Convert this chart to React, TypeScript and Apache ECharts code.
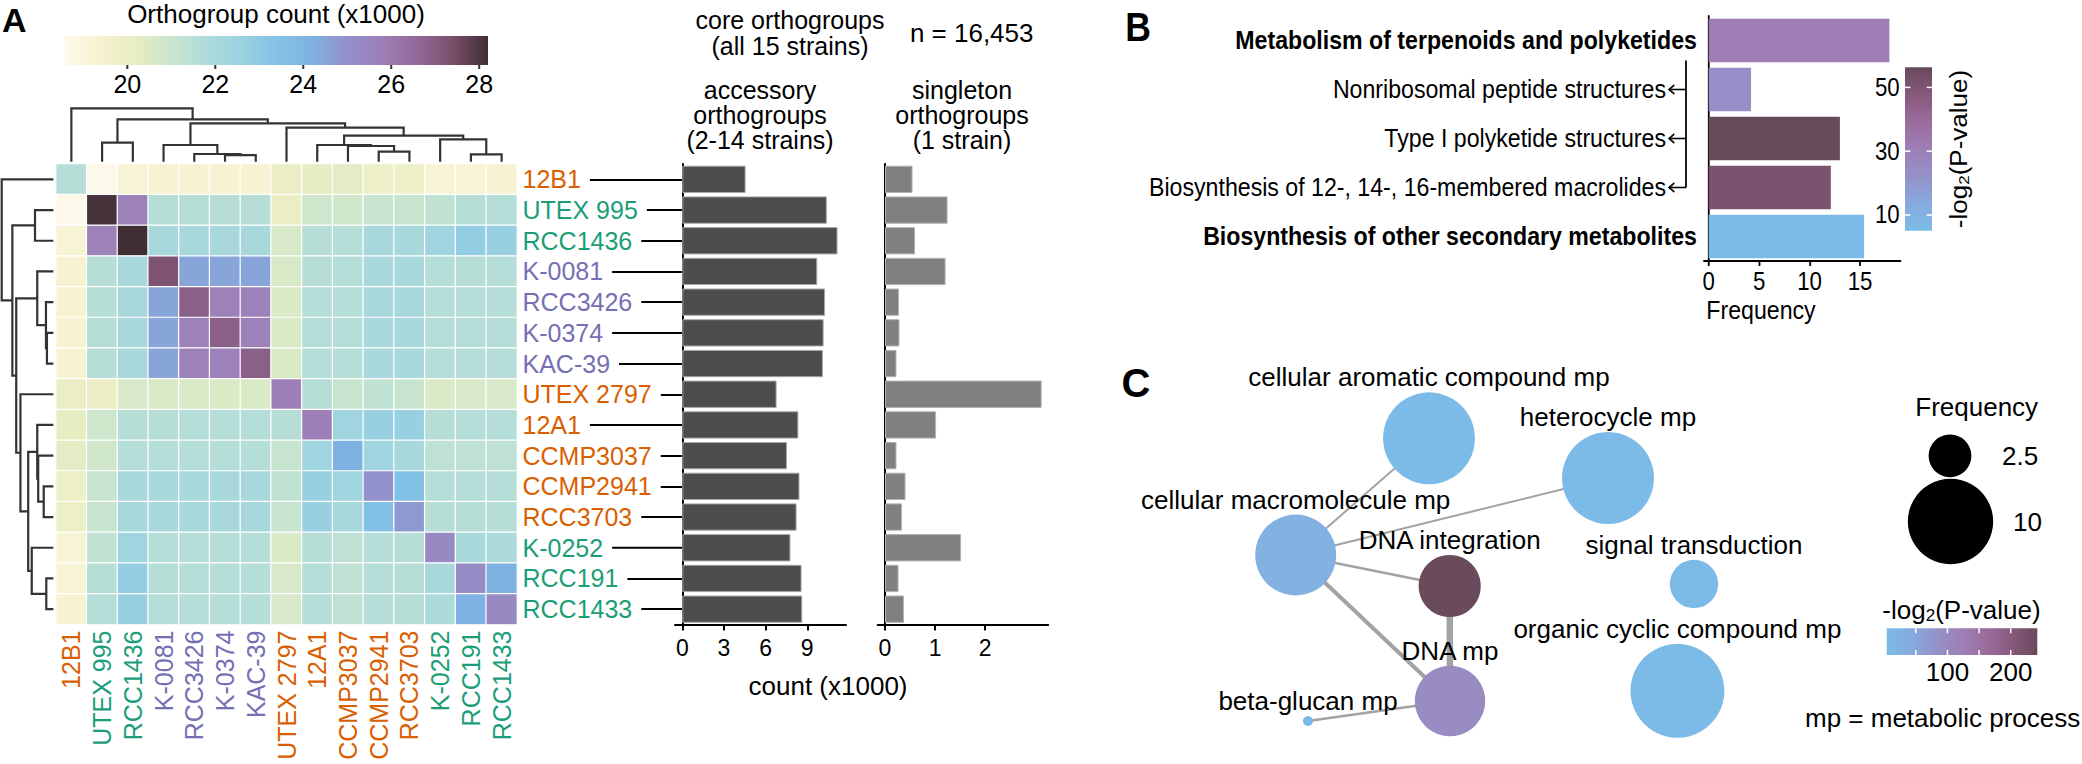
import React, { useEffect, useRef } from "react";
import * as echarts from "echarts";

const FONT = "'Liberation Sans', Arial, Helvetica, sans-serif";

// ---------------- Panel A data ----------------
const strains = ["12B1", "UTEX 995", "RCC1436", "K-0081", "RCC3426", "K-0374", "KAC-39", "UTEX 2797", "12A1", "CCMP3037", "CCMP2941", "RCC3703", "K-0252", "RCC191", "RCC1433"];
const strainGroup = [1, 0, 0, 2, 2, 2, 2, 1, 1, 1, 1, 1, 0, 0, 0];
const groupColors = ["#1b9e77", "#d95f02", "#7570b3"];

// shared orthogroup counts (x1000), row i / column j in strain order
const sharedOrthogroups = [
  [21.6, 18.7, 19.2, 19.3, 19.3, 19.3, 19.3, 20.0, 20.2, 20.3, 19.9, 19.9, 19.2, 19.2, 19.3],
  [18.7, 28.1, 25.7, 21.6, 21.6, 21.6, 21.6, 20.0, 20.9, 20.8, 21.1, 21.1, 21.3, 21.6, 21.65],
  [19.2, 25.7, 28.2, 22.1, 22.1, 22.1, 22.1, 20.65, 21.6, 21.65, 22.1, 22.1, 22.4, 22.85, 22.7],
  [19.3, 21.6, 22.1, 27.3, 24.5, 24.5, 24.5, 20.6, 21.6, 21.65, 22.1, 22.1, 21.65, 21.6, 21.65],
  [19.3, 21.6, 22.1, 24.5, 26.9, 25.7, 25.7, 20.55, 21.65, 21.65, 22.1, 22.1, 21.65, 21.65, 21.65],
  [19.3, 21.6, 22.1, 24.5, 25.7, 26.9, 25.7, 20.55, 21.65, 21.65, 22.1, 22.1, 21.65, 21.65, 21.65],
  [19.3, 21.6, 22.1, 24.5, 25.7, 25.7, 26.9, 20.55, 21.65, 21.65, 22.1, 22.1, 21.65, 21.65, 21.65],
  [20.0, 20.0, 20.65, 20.6, 20.55, 20.55, 20.55, 25.8, 21.6, 21.1, 21.3, 21.1, 20.55, 20.65, 20.65],
  [20.2, 20.9, 21.6, 21.6, 21.65, 21.65, 21.65, 21.6, 25.8, 22.4, 22.7, 22.7, 21.6, 21.65, 21.65],
  [20.3, 20.8, 21.65, 21.65, 21.65, 21.65, 21.65, 21.1, 22.4, 24.2, 22.4, 22.1, 21.35, 21.35, 21.35],
  [19.9, 21.1, 22.1, 22.1, 22.1, 22.1, 22.1, 21.3, 22.7, 22.4, 25.0, 23.5, 21.65, 21.65, 21.65],
  [19.9, 21.1, 22.1, 22.1, 22.1, 22.1, 22.1, 21.1, 22.7, 22.1, 23.5, 24.8, 21.6, 21.6, 21.6],
  [19.2, 21.3, 22.4, 21.65, 21.65, 21.65, 21.65, 20.55, 21.6, 21.35, 21.65, 21.6, 25.3, 22.1, 21.9],
  [19.2, 21.6, 22.85, 21.6, 21.65, 21.65, 21.65, 20.65, 21.65, 21.35, 21.65, 21.6, 22.1, 25.2, 24.2],
  [19.3, 21.65, 22.7, 21.65, 21.65, 21.65, 21.65, 20.65, 21.65, 21.35, 21.65, 21.6, 21.9, 24.2, 25.3],
];
const accessoryCounts = [4.56, 10.41, 11.18, 9.72, 10.28, 10.18, 10.13, 6.79, 8.36, 7.54, 8.44, 8.23, 7.79, 8.59, 8.64];
const singletonCounts = [0.55, 1.25, 0.6, 1.21, 0.28, 0.29, 0.23, 3.13, 1.02, 0.23, 0.41, 0.34, 1.52, 0.27, 0.38];
// hierarchical clustering: [childA, childB, height]; leaves 0..14, merges numbered from 15
const dendroMerges = [
  [5, 6, 0.125],
  [4, 15, 0.144],
  [13, 14, 0.1375],
  [10, 11, 0.1875],
  [9, 18, 0.294],
  [8, 19, 0.3125],
  [3, 16, 0.3125],
  [1, 2, 0.356],
  [12, 17, 0.419],
  [20, 23, 0.4875],
  [7, 24, 0.6375],
  [21, 25, 0.719],
  [22, 26, 0.794],
  [0, 27, 1.0],
];
const countScaleMin = 18.56;
const countScaleMax = 28.2;
const countTicks = [20, 22, 24, 26, 28];
const countPalette = ["#fdfaef", "#f6f2d0", "#e8edc2", "#cbe6cd", "#b0dcd9", "#9cd3e1", "#84c2e6", "#7fb2e2", "#9391cb", "#9e7fb7", "#93699a", "#7b4f6b", "#3f2f35"];
const accessoryTicks = [0, 3, 6, 9];
const singletonTicks = [0, 1, 2];

// ---------------- Panel B data ----------------
const keggTerms = ["Metabolism of terpenoids and polyketides", "Nonribosomal peptide structures", "Type I polyketide structures", "Biosynthesis of 12-, 14-, 16-membered macrolides", "Biosynthesis of other secondary metabolites"];
const keggIsParent = [true, false, false, false, true];
const keggFrequency = [17.9, 4.2, 13.0, 12.1, 15.4];
const keggLogP = [31, 23.5, 56, 51, 5.5];
const keggFreqTicks = [0, 5, 10, 15];
const keggLogPMin = 5.08;
const keggLogPMax = 56.3;
const keggLogPTicks = [10, 30, 50];
const pPalette = ["#7bbce8", "#86aade", "#9591c9", "#9e7fb6", "#9a6c9c", "#87597c", "#674a5a"];

// ---------------- Panel C data ----------------
const goTerms = ["cellular aromatic compound mp", "heterocycle mp", "cellular macromolecule mp", "DNA integration", "signal transduction", "organic cyclic compound mp", "DNA mp", "beta-glucan mp"];
const goLayoutX = [2.29, 4.08, 0.957, 2.497, 4.94, 4.774, 2.5, 1.08];
const goLayoutY = [3.217, 2.82, 2.05, 1.74, 1.76, 0.692, 0.59, 0.39];
const goFrequency = [11.6, 11.6, 9.0, 5.3, 3.2, 12.1, 6.8, 0.14];
const goLogP = [6, 6, 28, 240, 6, 6, 95, 6];
const goEdges = [
  [2, 0, 2],
  [2, 1, 2],
  [2, 3, 2.5],
  [2, 6, 4],
  [3, 6, 6.5],
  [6, 7, 2.5],
];
const goLogPMin = 4;
const goLogPMax = 242;
const goLogPTicks = [50, 100, 150, 200];
const goLogPLabels = [100, 200];
const freqLegendValues = [2.5, 10];

const nodeDiameter = (f: number) => 27 * Math.sqrt(f);

// ---------------- layout (pixels) ----------------
const HM = { left: 56, top: 164, width: 461, height: 460.5 };
const ACC = { left: 675, width: 171 };
const SING = { left: 877.7, width: 170.5 };
const DCOL = { top: 108.3, height: 53.4 };
const DROW = { left: 1.7, width: 51.7 };
const GC = { left: 1200, top: 360, width: 600, height: 400 };
const CBA = { x: 64, y: 36, w: 424, h: 29 };
const CBC = { x: 1886.7, y: 628.3, w: 150.6, h: 26.7 };

// panel B is drawn in its own box, horizontally condensed like the original
const B_LEFT = 1100;
const B_SQUEEZE = 0.89;
const B_W = (2082 - B_LEFT) / B_SQUEEZE;
const B_H = 340;
const bx = (x: number) => (x - B_LEFT) / B_SQUEEZE; // page x -> inner x
const KB = { left: bx(1704), top: 16, width: bx(1900.5) - bx(1704), height: 245 };
const CBB = { x: bx(1905), y: 67.3, w: bx(1932) - bx(1905), h: 163.4 };

function buildDendro() {
  const pos: number[] = strains.map((_, i) => i);
  const hgt: number[] = strains.map(() => 0);
  const segs: number[][] = [];
  dendroMerges.forEach(([a, b, h]) => {
    segs.push([pos[a], hgt[a], pos[b], hgt[b], h]);
    pos.push((pos[a] + pos[b]) / 2);
    hgt.push(h);
  });
  return segs;
}

function gradientStops(colors: string[]) {
  return colors.map((c, i) => ({ offset: i / (colors.length - 1), color: c }));
}

function txt(x: number, y: number, text: string, opts: any = {}) {
  return {
    type: "text",
    x,
    y,
    silent: true,
    rotation: opts.rotation || 0,
    style: {
      text,
      fill: opts.fill || "#000",
      fontSize: opts.fontSize || 26,
      fontFamily: FONT,
      fontWeight: opts.fontWeight || "normal",
      align: opts.align || "center",
      verticalAlign: opts.verticalAlign || "middle",
      lineHeight: opts.lineHeight,
      rich: opts.rich,
    },
  };
}

const axisBlack = { lineStyle: { color: "#000", width: 2 } };
const hidden = { show: false };
const logRich = {
  a: { fontSize: 26, fontFamily: FONT, fill: "#000" },
  s: { fontSize: 17, fontFamily: FONT, fill: "#000", padding: [10, 0, 0, 0] },
};

function buildMainOption() {
  const dendroSegs = buildDendro();
  const heatData: number[][] = [];
  sharedOrthogroups.forEach((row, i) => row.forEach((v, j) => heatData.push([j, i, v])));

  const graphic: any[] = [];
  graphic.push(txt(2, 20, "A", { fontSize: 34, fontWeight: "bold", align: "left" }));
  graphic.push(txt(1136, 383, "C", { fontSize: 40, fontWeight: "bold" }));

  // colour bar A
  graphic.push(txt(276, 1, "Orthogroup count (x1000)", { fontSize: 26, verticalAlign: "top" }));
  graphic.push({
    type: "rect",
    silent: true,
    shape: { x: CBA.x, y: CBA.y, width: CBA.w, height: CBA.h },
    style: { fill: new echarts.graphic.LinearGradient(0, 0, 1, 0, gradientStops(countPalette)) },
  });
  countTicks.forEach((t) => {
    const x = CBA.x + ((t - countScaleMin) / (countScaleMax - countScaleMin)) * CBA.w;
    graphic.push({ type: "line", silent: true, shape: { x1: x, y1: CBA.y + CBA.h, x2: x, y2: CBA.y + CBA.h + 4 }, style: { stroke: "#333", lineWidth: 2 } });
    graphic.push(txt(x, 84.3, String(t), { fontSize: 25 }));
  });

  const header = (cx: number, ys: number[], lines: string[]) =>
    lines.forEach((l, i) => graphic.push(txt(cx, ys[i], l, { fontSize: 25 })));
  header(790, [20, 46], ["core orthogroups", "(all 15 strains)"]);
  graphic.push(txt(971.7, 33.3, "n = 16,453", { fontSize: 26 }));
  header(760, [90, 115, 140], ["accessory", "orthogroups", "(2-14 strains)"]);
  header(962, [90, 115, 140], ["singleton", "orthogroups", "(1 strain)"]);
  graphic.push(txt(828, 686, "count (x1000)", { fontSize: 26 }));

  // panel C legends
  graphic.push(txt(1976.7, 406.7, "Frequency", { fontSize: 26 }));
  const legendCenters = [
    [1950, 455.8],
    [1950.5, 521.5],
  ];
  const legendLabelX = [2002, 2013];
  freqLegendValues.forEach((f, i) => {
    graphic.push({ type: "circle", silent: true, shape: { cx: legendCenters[i][0], cy: legendCenters[i][1], r: nodeDiameter(f) / 2 }, style: { fill: "#000" } });
    graphic.push(txt(legendLabelX[i], legendCenters[i][1], String(f), { fontSize: 26, align: "left" }));
  });
  graphic.push(txt(1961.5, 610, "{a|-log}{s|2}{a|(P-value)}", { rich: logRich }));
  graphic.push({
    type: "rect",
    silent: true,
    shape: { x: CBC.x, y: CBC.y, width: CBC.w, height: CBC.h },
    style: { fill: new echarts.graphic.LinearGradient(0, 0, 1, 0, gradientStops(pPalette)) },
  });
  goLogPTicks.forEach((t) => {
    const x = CBC.x + ((t - goLogPMin) / (goLogPMax - goLogPMin)) * CBC.w;
    graphic.push({ type: "line", silent: true, shape: { x1: x, y1: CBC.y, x2: x, y2: CBC.y + 5 }, style: { stroke: "#fff", lineWidth: 1.5 } });
    graphic.push({ type: "line", silent: true, shape: { x1: x, y1: CBC.y + CBC.h - 5, x2: x, y2: CBC.y + CBC.h }, style: { stroke: "#fff", lineWidth: 1.5 } });
    if (goLogPLabels.indexOf(t) >= 0) graphic.push(txt(x, 671.7, String(t), { fontSize: 26 }));
  });
  graphic.push(txt(1805, 718, "mp = metabolic process", { fontSize: 26, align: "left" }));

  const labelColor = (_v: any, idx: number) => groupColors[strainGroup[idx]];

  return {
    animation: false,
    textStyle: { fontFamily: FONT },
    grid: [
      { left: HM.left, top: HM.top, width: HM.width, height: HM.height },
      { left: ACC.left, top: HM.top, width: ACC.width, height: HM.height },
      { left: SING.left, top: HM.top, width: SING.width, height: HM.height },
      { left: HM.left, top: DCOL.top, width: HM.width, height: DCOL.height },
      { left: DROW.left, top: HM.top, width: DROW.width, height: HM.height },
      { left: GC.left, top: GC.top, width: GC.width, height: GC.height },
    ],
    xAxis: [
      {
        gridIndex: 0,
        type: "category",
        data: strains,
        axisLine: hidden,
        axisTick: hidden,
        axisLabel: { rotate: 90, margin: 6, fontSize: 25, fontFamily: FONT, interval: 0, color: labelColor },
      },
      {
        gridIndex: 1,
        type: "value",
        min: -0.526,
        max: 11.79,
        axisLine: { show: true, ...axisBlack },
        axisTick: { show: true, length: 6, ...axisBlack, customValues: accessoryTicks },
        axisLabel: { fontSize: 23, color: "#000", margin: 12, customValues: accessoryTicks },
        splitLine: hidden,
      },
      {
        gridIndex: 2,
        type: "value",
        min: -0.146,
        max: 3.26,
        axisLine: { show: true, ...axisBlack },
        axisTick: { show: true, length: 6, ...axisBlack, customValues: singletonTicks },
        axisLabel: { fontSize: 23, color: "#000", margin: 12, customValues: singletonTicks },
        splitLine: hidden,
      },
      { gridIndex: 3, type: "value", min: -0.5, max: 14.5, show: false },
      { gridIndex: 4, type: "value", min: 0, max: 1, inverse: true, show: false },
      { gridIndex: 5, type: "value", min: 0, max: 6, show: false },
    ],
    yAxis: [
      { gridIndex: 0, type: "category", data: strains, inverse: true, show: false },
      {
        gridIndex: 1,
        type: "category",
        data: strains,
        inverse: true,
        axisLine: { show: true, ...axisBlack },
        axisTick: { show: true, alignWithLabel: true, length: ACC.left - 522.5, ...axisBlack },
        axisLabel: {
          interval: 0,
          align: "left",
          margin: ACC.left - 522.5,
          fontSize: 25,
          fontFamily: FONT,
          color: labelColor,
          backgroundColor: "#fff",
          padding: [2, 9, 2, 0],
        },
      },
      {
        gridIndex: 2,
        type: "category",
        data: strains,
        inverse: true,
        axisLine: { show: true, ...axisBlack },
        axisTick: hidden,
        axisLabel: hidden,
      },
      { gridIndex: 3, type: "value", min: 0, max: 1, show: false },
      { gridIndex: 4, type: "value", min: -0.5, max: 14.5, inverse: true, show: false },
      { gridIndex: 5, type: "value", min: 0, max: 4, show: false },
    ],
    visualMap: [
      { type: "continuous", show: false, seriesIndex: 0, dimension: 2, min: countScaleMin, max: countScaleMax, inRange: { color: countPalette } },
      { type: "continuous", show: false, seriesIndex: 6, dimension: 2, min: goLogPMin, max: goLogPMax, inRange: { color: pPalette } },
    ],
    series: [
      {
        type: "heatmap",
        xAxisIndex: 0,
        yAxisIndex: 0,
        data: heatData,
        itemStyle: { borderColor: "#fff", borderWidth: 1.2 },
        emphasis: { disabled: true },
      },
      {
        type: "bar",
        xAxisIndex: 1,
        yAxisIndex: 1,
        data: accessoryCounts,
        barCategoryGap: "11%",
        itemStyle: { color: "#4d4d4d", borderColor: "#a8a8a8", borderWidth: 1 },
      },
      {
        type: "bar",
        xAxisIndex: 2,
        yAxisIndex: 2,
        data: singletonCounts,
        barCategoryGap: "11%",
        itemStyle: { color: "#808080", borderColor: "#b4b4b4", borderWidth: 1 },
      },
      {
        type: "custom",
        xAxisIndex: 3,
        yAxisIndex: 3,
        data: dendroSegs,
        silent: true,
        encode: { x: [0, 2], y: [1, 3, 4] },
        renderItem: (_p: any, api: any) => {
          const p1 = api.coord([api.value(0), api.value(1)]);
          const p2 = api.coord([api.value(0), api.value(4)]);
          const p3 = api.coord([api.value(2), api.value(4)]);
          const p4 = api.coord([api.value(2), api.value(3)]);
          return { type: "polyline", shape: { points: [p1, p2, p3, p4] }, style: { stroke: "#333", lineWidth: 2.2, fill: "none" } };
        },
      },
      {
        type: "custom",
        xAxisIndex: 4,
        yAxisIndex: 4,
        data: dendroSegs,
        silent: true,
        encode: { x: [1, 3, 4], y: [0, 2] },
        renderItem: (_p: any, api: any) => {
          const p1 = api.coord([api.value(1), api.value(0)]);
          const p2 = api.coord([api.value(4), api.value(0)]);
          const p3 = api.coord([api.value(4), api.value(2)]);
          const p4 = api.coord([api.value(3), api.value(2)]);
          return { type: "polyline", shape: { points: [p1, p2, p3, p4] }, style: { stroke: "#333", lineWidth: 2.2, fill: "none" } };
        },
      },
      {
        type: "lines",
        coordinateSystem: "cartesian2d",
        xAxisIndex: 5,
        yAxisIndex: 5,
        silent: true,
        z: 1,
        lineStyle: { color: "#a3a3a3", opacity: 1 },
        data: goEdges.map(([a, b, w]) => ({
          coords: [
            [goLayoutX[a], goLayoutY[a]],
            [goLayoutX[b], goLayoutY[b]],
          ],
          lineStyle: { width: w },
        })),
      },
      {
        type: "scatter",
        xAxisIndex: 5,
        yAxisIndex: 5,
        z: 3,
        data: goTerms.map((_, i) => [goLayoutX[i], goLayoutY[i], goLogP[i], goFrequency[i]]),
        symbolSize: (v: number[]) => nodeDiameter(v[3]),
        itemStyle: { opacity: 1 },
        label: {
          show: true,
          position: "top",
          distance: 2,
          fontSize: 26,
          fontFamily: FONT,
          color: "#000",
          formatter: (p: any) => goTerms[p.dataIndex],
        },
      },
    ],
    graphic,
  };
}

function buildBOption() {
  const band = KB.height / keggTerms.length;
  const rowY = (i: number) => KB.top + band * (i + 0.5);
  const labelRight = KB.left - 8; // right edge of all labels
  const subTextRight = bx(1666);
  const arrowL = bx(1669);
  const bracketX = bx(1686);

  const graphic: any[] = [];
  graphic.push(txt(bx(1138), 27, "B", { fontSize: 40, fontWeight: "bold" }));
  // bracket and arrows linking the parent class to its maps
  graphic.push({ type: "line", silent: true, shape: { x1: bracketX, y1: rowY(0) + 20, x2: bracketX, y2: rowY(3) }, style: { stroke: "#000", lineWidth: 2 } });
  [1, 2, 3].forEach((i) => {
    const y = rowY(i);
    graphic.push({ type: "line", silent: true, shape: { x1: arrowL, y1: y, x2: bracketX, y2: y }, style: { stroke: "#000", lineWidth: 1.6 } });
    graphic.push({
      type: "polyline",
      silent: true,
      shape: { points: [[arrowL + 6, y - 4.5], [arrowL, y], [arrowL + 6, y + 4.5]] },
      style: { stroke: "#000", lineWidth: 1.6, fill: "none" },
    });
  });
  // colour bar
  graphic.push({
    type: "rect",
    silent: true,
    shape: { x: CBB.x, y: CBB.y, width: CBB.w, height: CBB.h },
    style: { fill: new echarts.graphic.LinearGradient(0, 1, 0, 0, gradientStops(pPalette)) },
  });
  keggLogPTicks.forEach((t) => {
    const y = CBB.y + CBB.h - ((t - keggLogPMin) / (keggLogPMax - keggLogPMin)) * CBB.h;
    graphic.push({ type: "line", silent: true, shape: { x1: CBB.x, y1: y, x2: CBB.x + 6, y2: y }, style: { stroke: "#fff", lineWidth: 1.5 } });
    graphic.push({ type: "line", silent: true, shape: { x1: CBB.x + CBB.w - 6, y1: y, x2: CBB.x + CBB.w, y2: y }, style: { stroke: "#fff", lineWidth: 1.5 } });
    graphic.push(txt(CBB.x - 6, y, String(t), { fontSize: 25, align: "right" }));
  });
  graphic.push(txt(bx(1959), CBB.y + CBB.h / 2, "{a|-log}{s|2}{a|(P-value)}", { rotation: Math.PI / 2, rich: logRich }));
  graphic.push(txt(bx(1761), 310, "Frequency", { fontSize: 26 }));

  return {
    animation: false,
    textStyle: { fontFamily: FONT },
    grid: [{ left: KB.left, top: KB.top, width: KB.width, height: KB.height }],
    xAxis: [
      {
        type: "value",
        min: -0.46,
        max: 19,
        axisLine: { show: true, ...axisBlack },
        axisTick: { show: true, length: 5, ...axisBlack, customValues: keggFreqTicks },
        axisLabel: { fontSize: 25, color: "#000", margin: 8, customValues: keggFreqTicks },
        splitLine: hidden,
      },
    ],
    yAxis: [
      {
        type: "category",
        data: keggTerms,
        inverse: true,
        axisLine: { show: true, ...axisBlack },
        axisTick: hidden,
        axisLabel: {
          interval: 0,
          margin: 8,
          formatter: (v: string, i: number) => (keggIsParent[i] ? `{b|${v}}` : `{n|${v}}`),
          rich: {
            b: { fontSize: 26, fontWeight: "bold", color: "#000", fontFamily: FONT },
            n: { fontSize: 26, color: "#000", fontFamily: FONT, padding: [0, labelRight - subTextRight, 0, 0] },
          },
        },
      },
    ],
    visualMap: [
      { type: "continuous", show: false, seriesIndex: 0, dimension: 2, min: keggLogPMin, max: keggLogPMax, inRange: { color: pPalette } },
    ],
    series: [
      {
        type: "bar",
        encode: { x: 0, y: 1 },
        data: keggFrequency.map((f, i) => [f, i, keggLogP[i]]),
        barCategoryGap: "11%",
      },
    ],
    graphic,
  };
}

export default function App() {
  const ref = useRef<HTMLDivElement>(null);
  const refB = useRef<HTMLDivElement>(null);
  useEffect(() => {
    const chart = echarts.init(ref.current as HTMLDivElement, null, { renderer: "svg" });
    chart.setOption(buildMainOption() as any);
    const chartB = echarts.init(refB.current as HTMLDivElement, null, { renderer: "svg" });
    chartB.setOption(buildBOption() as any);
    return () => {
      chart.dispose();
      chartB.dispose();
    };
  }, []);
  return (
    <div style={{ position: "absolute", left: 0, top: 0, width: 2082, height: 764, background: "#fff", overflow: "hidden" }}>
      <div ref={ref} style={{ position: "absolute", left: 0, top: 0, width: 2082, height: 764 }} />
      <div
        ref={refB}
        style={{
          position: "absolute",
          left: B_LEFT,
          top: 0,
          width: B_W,
          height: B_H,
          transform: `scaleX(${B_SQUEEZE})`,
          transformOrigin: "0 0",
        }}
      />
    </div>
  );
}
